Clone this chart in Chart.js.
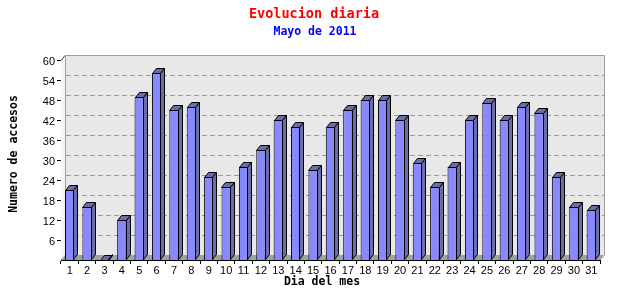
<!DOCTYPE html>
<html>
<head>
<meta charset="utf-8">
<script src="https://cdn.jsdelivr.net/npm/chart.js@4.4.0/dist/chart.umd.min.js"></script>
<style>
  html, body { margin: 0; padding: 0; background: #fff; }
</style>
</head>
<body>
<canvas id="grafico" width="640" height="300"></canvas>
<script>
const dias = ['1', '2', '3', '4', '5', '6', '7', '8', '9', '10', '11', '12', '13', '14', '15', '16',
  '17', '18', '19', '20', '21', '22', '23', '24', '25', '26', '27', '28', '29', '30', '31'];
const accesos = [21, 16, 0, 12, 49, 56, 45, 46, 25, 22, 28, 33, 42, 40, 27, 40,
  45, 48, 48, 42, 29, 22, 28, 42, 47, 42, 46, 44, 25, 16, 15];
const marcasY = [6, 12, 18, 24, 30, 36, 42, 48, 54, 60];

const titulo = 'Evolucion diaria';
const subtitulo = 'Mayo de 2011';
const tituloX = 'Dia del mes';
const tituloY = 'Numero de accesos';

// profundidad del efecto 3D
const PX = 4, PY = 5;
const mono = "'DejaVu Sans Mono', monospace";
const fuenteEjes = { family: "'Liberation Sans', Arial, sans-serif", size: 11 };

const fondo3d = {
  id: 'fondo3d',
  beforeDatasetsDraw(chart) {
    const ctx = chart.ctx;
    const { left, right, top, bottom } = chart.chartArea;
    const y = chart.scales.y;
    ctx.save();
    // pared del fondo
    ctx.fillStyle = '#e8e8e8';
    ctx.fillRect(left + PX, top - PY, right - left, bottom - top);
    // pared lateral
    ctx.fillStyle = '#f4f4f4';
    ctx.beginPath();
    ctx.moveTo(left, top);
    ctx.lineTo(left + PX, top - PY);
    ctx.lineTo(left + PX, bottom - PY);
    ctx.lineTo(left, bottom);
    ctx.closePath();
    ctx.fill();
    // suelo
    ctx.fillStyle = '#a0a0a0';
    ctx.beginPath();
    ctx.moveTo(left, bottom);
    ctx.lineTo(left + PX, bottom - PY);
    ctx.lineTo(right + PX, bottom - PY);
    ctx.lineTo(right, bottom);
    ctx.closePath();
    ctx.fill();
    // lineas de la rejilla
    ctx.strokeStyle = '#999';
    ctx.lineWidth = 1;
    ctx.setLineDash([5, 3]);
    marcasY.slice(0, -1).forEach(v => {
      const yy = Math.round(y.getPixelForValue(v)) - PY + 0.5;
      ctx.beginPath();
      ctx.moveTo(left + PX + 1, yy);
      ctx.lineTo(right + PX, yy);
      ctx.stroke();
    });
    ctx.setLineDash([]);
    // bordes
    ctx.strokeStyle = '#a0a0a0';
    ctx.beginPath();
    ctx.moveTo(left + PX + 0.5, bottom - PY);
    ctx.lineTo(left + PX + 0.5, top - PY + 0.5);
    ctx.lineTo(right + PX + 0.5, top - PY + 0.5);
    ctx.lineTo(right + PX + 0.5, bottom - PY);
    ctx.lineTo(right, bottom);
    ctx.stroke();
    ctx.strokeStyle = '#444';
    ctx.beginPath();
    ctx.moveTo(left, top + 0.5);
    ctx.lineTo(left + PX, top - PY + 0.5);
    ctx.stroke();
    ctx.restore();
  },
  afterDatasetsDraw(chart) {
    const ctx = chart.ctx;
    const meta = chart.getDatasetMeta(0);
    ctx.save();
    ctx.fillStyle = '#6c6ca8';
    ctx.strokeStyle = '#000';
    ctx.lineWidth = 1;
    meta.data.forEach(bar => {
      const p = bar.getProps(['x', 'y', 'width', 'base'], true);
      const x0 = Math.round(p.x - p.width / 2) + 0.5;
      const x1 = Math.round(p.x + p.width / 2) - 0.5;
      const yt = Math.round(p.y) + 0.5;
      const yb = Math.round(p.base) - 0.5;
      // cara superior
      ctx.beginPath();
      ctx.moveTo(x0, yt);
      ctx.lineTo(x0 + PX, yt - PY);
      ctx.lineTo(x1 + PX, yt - PY);
      ctx.lineTo(x1, yt);
      ctx.closePath();
      ctx.fill();
      ctx.stroke();
      // cara lateral
      ctx.beginPath();
      ctx.moveTo(x1, yt);
      ctx.lineTo(x1 + PX, yt - PY);
      ctx.lineTo(x1 + PX, yb - PY);
      ctx.lineTo(x1, yb);
      ctx.closePath();
      ctx.fill();
      ctx.stroke();
    });
    ctx.restore();
  },
  afterDraw(chart) {
    const ctx = chart.ctx;
    ctx.save();
    ctx.textAlign = 'center';
    ctx.textBaseline = 'middle';
    ctx.fillStyle = '#ff0000';
    ctx.font = 'bold 13.5px ' + mono;
    ctx.fillText(titulo, 314, 14);
    ctx.fillStyle = '#0000ff';
    ctx.font = 'bold 11.5px ' + mono;
    ctx.fillText(subtitulo, 315, 32);
    ctx.fillStyle = '#000';
    ctx.fillText(tituloX, 322, 282);
    ctx.translate(14, 154);
    ctx.rotate(-Math.PI / 2);
    ctx.fillText(tituloY, 0, 0);
    ctx.restore();
  }
};

const grafico = new Chart(document.getElementById('grafico').getContext('2d'), {
  type: 'bar',
  data: {
    labels: dias,
    datasets: [{
      data: accesos,
      backgroundColor: '#8888ff',
      borderColor: '#000',
      borderWidth: 1,
      barPercentage: 0.54,
      categoryPercentage: 1
    }]
  },
  options: {
    responsive: false,
    animation: false,
    devicePixelRatio: 1,
    layout: { padding: { top: 60, right: 40, left: 0, bottom: 0 } },
    plugins: {
      legend: { display: false },
      tooltip: { enabled: false }
    },
    scales: {
      x: {
        grid: { drawOnChartArea: false, drawTicks: true, tickLength: 4, color: '#000', offset: true },
        border: { color: '#000' },
        ticks: { autoSkip: false, maxRotation: 0, padding: 0, color: '#000', font: fuenteEjes },
        afterFit(s) { s.height = 40; }
      },
      y: {
        min: 0,
        max: 60,
        afterBuildTicks(s) { s.ticks = marcasY.map(v => ({ value: v })); },
        grid: { drawOnChartArea: false, tickLength: 4, color: '#000' },
        border: { color: '#000' },
        ticks: { padding: 2, labelOffset: 2, color: '#000', font: fuenteEjes },
        afterFit(s) { s.width = 61; }
      }
    }
  },
  plugins: [fondo3d]
});
</script>
</body>
</html>
